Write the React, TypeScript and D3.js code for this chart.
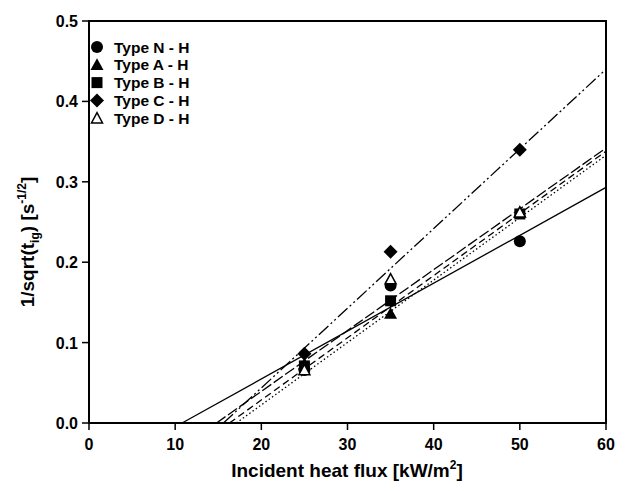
import React from "react";
import * as d3 from "d3";

const xs = [25, 35, 50];
const seriesNames = ["Type N - H", "Type A - H", "Type B - H", "Type C - H", "Type D - H"];
const valuesN = [0.066, 0.171, 0.226];
const valuesA = [0.073, 0.136, 0.262];
const valuesB = [0.071, 0.152, 0.260];
const valuesC = [0.086, 0.213, 0.340];
const valuesD = [0.066, 0.179, 0.262];
// fitted lines: x where y = 0, and y at x = 60
const fitX0 = [10.8, 17.1, 16.3, 15.6, 14.8];
const fitY60 = [0.293, 0.333, 0.338, 0.44, 0.342];
const xTicks = [0, 10, 20, 30, 40, 50, 60];
const yTicks = [0, 0.1, 0.2, 0.3, 0.4, 0.5];

const W = 631, H = 491;
const L = 89, R = 606, T = 21, B = 423;
const FONT = "'Liberation Sans', Arial, sans-serif";

const markers = ["circle", "triangle", "square", "diamond", "openTriangle"];
const dashes = [undefined, "1.5,2.5", "7,4", "13,3,2,3,2,3", "11,3"];

function Marker({ type, cx, cy }: { type: string; cx: number; cy: number }) {
  if (type === "circle") return <circle cx={cx} cy={cy} r={6} fill="#000" />;
  if (type === "square") return <rect x={cx - 5.5} y={cy - 5.5} width={11} height={11} fill="#000" />;
  if (type === "diamond") {
    const s = 7;
    return <path d={`M${cx},${cy - s}L${cx + s},${cy}L${cx},${cy + s}L${cx - s},${cy}Z`} fill="#000" />;
  }
  const s = 6.5;
  const d = `M${cx},${cy - s}L${cx + s},${cy + s * 0.8}L${cx - s},${cy + s * 0.8}Z`;
  if (type === "triangle") return <path d={d} fill="#000" />;
  return <path d={`M${cx},${cy - s + 1}L${cx + s - 1},${cy + s * 0.8 - 0.5}L${cx - s + 1},${cy + s * 0.8 - 0.5}Z`} fill="#fff" stroke="#000" strokeWidth={1.5} />;
}

export default function App() {
  const x = d3.scaleLinear().domain([0, 60]).range([L, R]);
  const y = d3.scaleLinear().domain([0, 0.5]).range([B, T]);
  const all = [valuesN, valuesA, valuesB, valuesC, valuesD];
  const line = d3.line<[number, number]>().x((d) => x(d[0])).y((d) => y(d[1]));

  return (
    <svg width={W} height={H} style={{ position: "absolute", left: 0, top: 0, background: "#fff" }} fontFamily={FONT}>
      <rect width={W} height={H} fill="#fff" />
      {fitX0.map((x0, i) => (
        <path key={"l" + i} d={line([[x0, 0], [60, fitY60[i]]]) || ""} fill="none" stroke="#000" strokeWidth={1.3} strokeDasharray={dashes[i]} />
      ))}
      {all.map((vals, i) =>
        vals.map((v, j) => <Marker key={`m${i}-${j}`} type={markers[i]} cx={x(xs[j])} cy={y(v)} />)
      )}
      <rect x={L} y={T} width={R - L} height={B - T} fill="none" stroke="#000" strokeWidth={2} />
      {xTicks.map((t) => (
        <g key={"xt" + t}>
          <line x1={x(t)} x2={x(t)} y1={B} y2={B + 7} stroke="#000" strokeWidth={1.5} />
          <text x={x(t)} y={B + 27} textAnchor="middle" fontSize={16} fontWeight="bold">{t}</text>
        </g>
      ))}
      {yTicks.map((t) => (
        <g key={"yt" + t}>
          <line x1={L - 7} x2={L} y1={y(t)} y2={y(t)} stroke="#000" strokeWidth={1.5} />
          <text x={L - 11} y={y(t) + 6} textAnchor="end" fontSize={16} fontWeight="bold">{t.toFixed(1)}</text>
        </g>
      ))}
      <text x={347} y={477} textAnchor="middle" fontSize={19} fontWeight="bold">
        Incident heat flux [kW/m<tspan dy={-8} fontSize={12}>2</tspan><tspan dy={8}>]</tspan>
      </text>
      <text transform={`translate(34,${(T + B) / 2 + 20}) rotate(-90)`} textAnchor="middle" fontSize={19} fontWeight="bold">
        1/sqrt(t<tspan dy={5} fontSize={12}>ig</tspan><tspan dy={-5}>) [s</tspan><tspan dy={-8} fontSize={12}>-1/2</tspan><tspan dy={8}>]</tspan>
      </text>
      {seriesNames.map((n, i) => (
        <g key={"lg" + i}>
          <Marker type={markers[i]} cx={97} cy={47 + i * 17.8} />
          <text x={114} y={47 + i * 17.8 + 5.5} fontSize={15.5} fontWeight="bold">{n}</text>
        </g>
      ))}
    </svg>
  );
}
